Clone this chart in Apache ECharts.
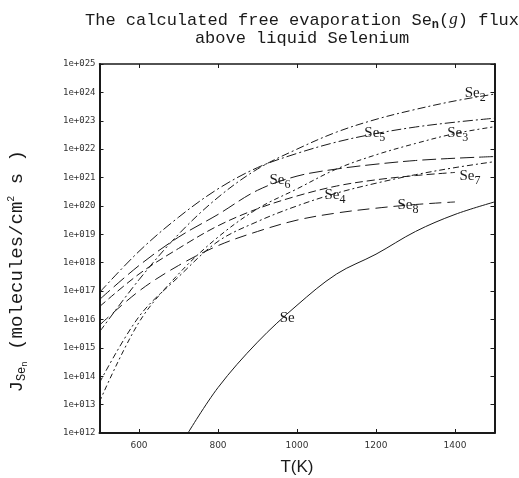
<!DOCTYPE html>
<html>
<head>
<meta charset="utf-8">
<script src="https://cdn.jsdelivr.net/npm/echarts@6/dist/echarts.min.js"></script>
<style>
  html, body { margin: 0; padding: 0; background: #fff; }
  #main { width: 519px; height: 478px; }
</style>
</head>
<body>
<div id="main"></div>
<script>
// temperatures (K) and log10 of the flux
var T = [500, 600, 700, 800, 900, 1000, 1100, 1200, 1300, 1400, 1500];
var logSe2 = [15.56, 17.4, 19.0, 20.3, 21.3, 22.0, 22.6, 23.05, 23.4, 23.7, 23.94];
var logSe5 = [16.95, 18.4, 19.6, 20.6, 21.35, 21.85, 22.25, 22.55, 22.78, 22.95, 23.09];
var logSe3 = [13.1, 15.9, 17.6, 18.9, 19.9, 20.6, 21.3, 21.8, 22.2, 22.55, 22.79];
var logSe6 = [16.7, 17.9, 18.9, 19.7, 20.55, 21.05, 21.3, 21.47, 21.6, 21.68, 21.74];
var logSe7 = [16.45, 17.6, 18.5, 19.3, 19.9, 20.35, 20.7, 20.92, 21.07, 21.18];
var logSe4 = [13.77, 16.1, 17.5, 18.75, 19.45, 20.0, 20.45, 20.8, 21.1, 21.35, 21.56];
var logSe8 = [15.8, 17.0, 17.9, 18.6, 19.1, 19.5, 19.75, 19.92, 20.05, 20.14];
var seT = [724, 800, 900, 1000, 1100, 1200, 1300, 1400, 1500];
var logSe = [12.0, 13.6, 15.2, 16.5, 17.6, 18.3, 19.1, 19.7, 20.14];

var xTicks = [600, 800, 1000, 1200, 1400];
var yTicks = [1e12, 1e13, 1e14, 1e15, 1e16, 1e17, 1e18, 1e19, 1e20, 1e21, 1e22, 1e23, 1e24, 1e25];
var yTickLabels = ['1e+012', '1e+013', '1e+014', '1e+015', '1e+016', '1e+017', '1e+018',
                   '1e+019', '1e+020', '1e+021', '1e+022', '1e+023', '1e+024', '1e+025'];

function pts(ts, logs) {
    return logs.map(function (v, i) { return [ts[i], Math.pow(10, v)]; });
}

var ink = '#1a1a1a';
var labelRich = {
    b: { fontSize: 15, fontFamily: 'Liberation Serif', color: ink },
    s: { fontSize: 12, fontFamily: 'Liberation Serif', color: ink, padding: [10, 0, 0, 0] }
};

function curve(name, data, dash, lab) {
    return {
        name: name,
        type: 'line',
        data: data,
        smooth: 0.35,
        showSymbol: false,
        silent: true,
        lineStyle: { color: ink, width: 1, type: dash },
        markPoint: lab ? {
            symbol: 'circle',
            symbolSize: 0,
            silent: true,
            data: [{ coord: lab.at, value: 0 }],
            label: {
                show: true,
                position: 'inside',
                formatter: lab.text,
                rich: labelRich
            }
        } : undefined
    };
}

var myChart = echarts.init(document.getElementById('main'));

var monoRich = {
    t: { fontFamily: 'Liberation Mono', fontSize: 17, fontWeight: 'normal', color: ink },
    s: { fontFamily: 'Liberation Mono', fontSize: 12, fontWeight: 'bold', color: ink, padding: [9, 0, 0, 0] },
    i: { fontFamily: 'Liberation Serif', fontStyle: 'italic', fontWeight: 'normal', fontSize: 17, color: ink }
};

var option = {
    animation: false,
    title: {
        text: '{t|The calculated free evaporation Se}{s|n}{t|(}{i|g}{t|) flux}\n{t|above liquid Selenium}',
        left: 297,
        top: 6,
        textAlign: 'center',
        textStyle: { rich: monoRich, lineHeight: 18, fontWeight: 'normal' }
    },
    grid: { left: 99.5, right: 24.5, top: 64, bottom: 45, outerBoundsMode: 'none' },
    xAxis: [{
        type: 'value',
        min: 500,
        max: 1500,
        position: 'bottom',
        axisLine: { lineStyle: { color: ink, width: 2 } },
        axisTick: { inside: true, length: 4, customValues: xTicks, lineStyle: { color: ink } },
        axisLabel: {
            customValues: xTicks,
            fontFamily: 'DejaVu Sans',
            fontSize: 9,
            color: '#333',
            margin: 8,
            formatter: function (v) { return String(v); }
        },
        splitLine: { show: false },
        name: 'T(K)',
        nameLocation: 'middle',
        nameGap: 26,
        nameTextStyle: { fontFamily: 'Liberation Sans', fontSize: 17, color: ink }
    }, {
        type: 'value',
        min: 500,
        max: 1500,
        position: 'top',
        axisLine: { lineStyle: { color: ink, width: 1.5 } },
        axisTick: { inside: true, length: 4, customValues: xTicks, lineStyle: { color: ink } },
        axisLabel: { show: false },
        splitLine: { show: false }
    }],
    yAxis: [{
        type: 'log',
        logBase: 10,
        min: 1e12,
        max: 1e25,
        position: 'left',
        axisLine: { lineStyle: { color: ink, width: 2 } },
        axisTick: { inside: true, length: 4, customValues: yTicks, lineStyle: { color: ink } },
        axisLabel: {
            customValues: yTicks,
            fontFamily: 'DejaVu Sans Mono',
            fontSize: 9,
            color: '#333',
            margin: 4,
            formatter: function (v) {
                return yTickLabels[Math.round(Math.log10(v)) - 12];
            }
        },
        splitLine: { show: false },
        name: '{t|J}{s|Se}{ss|n}{t| (molecules/cm}{u|2}{t| s )}{t|    }',
        nameLocation: 'middle',
        nameGap: 70,
        nameTextStyle: {
            rich: {
                t: { fontFamily: 'Liberation Mono', fontSize: 19, color: ink },
                s: { fontFamily: 'Liberation Mono', fontSize: 12, color: ink, padding: [9, 0, 0, 0] },
                ss: { fontFamily: 'Liberation Mono', fontSize: 9, color: ink, padding: [16, 0, 0, 0] },
                u: { fontFamily: 'Liberation Mono', fontSize: 10, color: ink, padding: [0, 0, 11, 0] }
            }
        }
    }, {
        type: 'log',
        logBase: 10,
        min: 1e12,
        max: 1e25,
        position: 'right',
        axisLine: { lineStyle: { color: ink, width: 2 } },
        axisTick: { inside: true, length: 4, customValues: yTicks, lineStyle: { color: ink } },
        axisLabel: { show: false },
        splitLine: { show: false }
    }],
    series: [
        curve('Se2', pts(T, logSe2), [8, 3, 2, 3], { at: [1451, Math.pow(10, 23.98)], text: '{b|Se}{s|2}' }),
        curve('Se5', pts(T, logSe5), [10, 3, 2, 3], { at: [1197, Math.pow(10, 22.57)], text: '{b|Se}{s|5}' }),
        curve('Se3', pts(T, logSe3), [5, 3, 2, 3], { at: [1407, Math.pow(10, 22.57)], text: '{b|Se}{s|3}' }),
        curve('Se6', pts(T, logSe6), [14, 5], { at: [957, Math.pow(10, 20.92)], text: '{b|Se}{s|6}' }),
        curve('Se7', pts(T, logSe7), [8, 4], { at: [1438, Math.pow(10, 21.06)], text: '{b|Se}{s|7}' }),
        curve('Se4', pts(T, logSe4), [6, 3, 2, 3], { at: [1096, Math.pow(10, 20.39)], text: '{b|Se}{s|4}' }),
        curve('Se8', pts(T, logSe8), [12, 6], { at: [1281, Math.pow(10, 20.04)], text: '{b|Se}{s|8}' }),
        curve('Se', pts(seT, logSe), 'solid', { at: [975, Math.pow(10, 16.06)], text: '{b|Se}' })
    ]
};

myChart.setOption(option);
</script>
</body>
</html>
